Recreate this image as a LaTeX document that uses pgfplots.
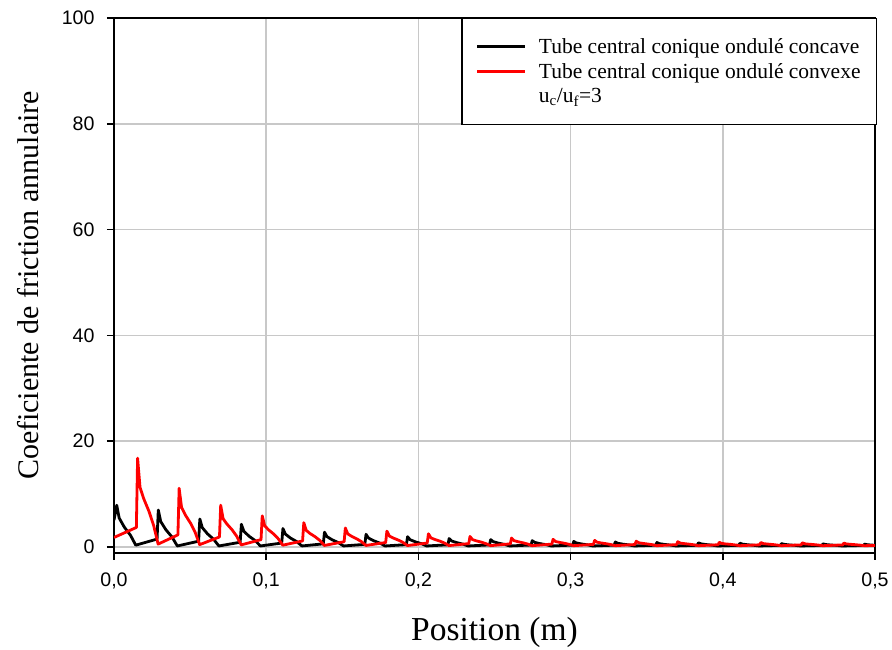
\documentclass[border=0pt]{standalone}
\usepackage{fontspec}
\setmainfont{Liberation Serif}
\newfontfamily\ticksf{Liberation Sans}
\usepackage{pgfplots}
\pgfplotsset{compat=1.18}
\definecolor{gridgray}{RGB}{200,200,200}
\definecolor{cred}{RGB}{255,0,0}
\begin{document}
\begin{tikzpicture}
\begin{axis}[
  scale only axis,
  width=761pt, height=535pt,
  xmin=0, xmax=0.5, ymin=-1.13, ymax=100,
  xtick={0,0.1,0.2,0.3,0.4,0.5},
  ytick={0,20,40,60,80,100},
  grid=major,
  major grid style={gridgray, line width=1.5pt},
  axis line style={black, line width=1.6pt},
  tick style={black, line width=1.6pt},
  tick align=outside,
  major tick length=7pt,
  xtick pos=bottom, ytick pos=left,
  /pgf/number format/assume math mode=true,
  xticklabel style={font=\ticksf\fontsize{19.6}{22}\selectfont, yshift=-9pt, /pgf/number format/.cd, use comma, fixed, fixed zerofill, precision=1},
  yticklabel style={font=\ticksf\fontsize{19.6}{22}\selectfont, xshift=-9pt, /pgf/number format/.cd, fixed, precision=0},
  xlabel={Position (m)},
  ylabel={Coeficiente de friction annulaire},
  xlabel style={font=\fontsize{33.5}{38}\selectfont, at={(axis description cs:0.5,0)}, anchor=center, yshift=-79pt},
  ylabel style={font=\fontsize{30}{34}\selectfont, at={(axis description cs:0,0.5)}, anchor=center, yshift=86pt},
  legend style={at={(axis description cs:1.003,1)}, anchor=north east, draw=black, line width=1.5pt, fill=white,
    font=\fontsize{21.5}{25}\selectfont, inner xsep=14pt, inner ysep=18pt, row sep=4.5pt,
    nodes={inner sep=2pt},
    /tikz/every odd column/.append style={column sep=10pt}},
  legend cell align=left,
  legend image code/.code={\draw[#1, line width=3pt] (0pt,0pt) -- (48pt,0pt);},
]
\addplot[black, line width=2.8pt, line join=round] coordinates {
(0,5.1) (0.0018,7.9) (0.0034,5.48) (0.0068,3.75) (0.0108,2.24) (0.0143,0.35)
(0.0283,1.5) (0.0291,7.0) (0.0307,4.82) (0.0341,3.26) (0.0381,1.9) (0.0416,0.2)
(0.0556,1.1) (0.0564,5.3) (0.058,3.67) (0.0614,2.5) (0.0654,1.48) (0.0689,0.2)
(0.0829,0.9) (0.0837,4.3) (0.0853,2.99) (0.0887,2.05) (0.0927,1.23) (0.0962,0.2)
(0.1102,0.75) (0.111,3.5) (0.1126,2.44) (0.116,1.69) (0.12,1.03) (0.1235,0.2)
(0.1375,0.6) (0.1383,2.8) (0.1399,1.97) (0.1433,1.37) (0.1473,0.85) (0.1508,0.2)
(0.1648,0.5) (0.1656,2.4) (0.1672,1.7) (0.1706,1.19) (0.1746,0.75) (0.1781,0.2)
(0.1921,0.45) (0.1929,1.95) (0.1945,1.39) (0.1979,0.99) (0.2019,0.64) (0.2054,0.2)
(0.2194,0.42) (0.2202,1.6) (0.2218,1.15) (0.2252,0.83) (0.2292,0.55) (0.2327,0.2)
(0.2467,0.4) (0.2475,1.4) (0.2491,1.02) (0.2525,0.74) (0.2565,0.5) (0.26,0.2)
(0.274,0.38) (0.2748,1.2) (0.2764,0.88) (0.2798,0.65) (0.2838,0.45) (0.2873,0.2)
(0.3013,0.36) (0.3021,1.05) (0.3037,0.78) (0.3071,0.58) (0.3111,0.41) (0.3146,0.2)
(0.3286,0.35) (0.3294,0.95) (0.331,0.71) (0.3344,0.54) (0.3384,0.39) (0.3419,0.2)
(0.3559,0.34) (0.3567,0.85) (0.3583,0.64) (0.3617,0.49) (0.3657,0.36) (0.3692,0.2)
(0.3832,0.33) (0.384,0.8) (0.3856,0.61) (0.389,0.47) (0.393,0.35) (0.3965,0.2)
(0.4105,0.32) (0.4113,0.72) (0.4129,0.55) (0.4163,0.43) (0.4203,0.33) (0.4238,0.2)
(0.4378,0.31) (0.4386,0.65) (0.4402,0.51) (0.4436,0.4) (0.4476,0.31) (0.4511,0.2)
(0.4651,0.3) (0.4659,0.6) (0.4675,0.47) (0.4709,0.38) (0.4749,0.3) (0.4784,0.2)
(0.4924,0.3) (0.4932,0.55) (0.4948,0.44) (0.4982,0.36) (0.5,0.33)
};
\addlegendentry{Tube central conique ondulé concave}
\addplot[cred, line width=2.8pt, line join=round] coordinates {
(0,1.8) (0.0147,3.7) (0.0155,16.8) (0.0171,11.28) (0.0195,9.16) (0.023,6.73) (0.026,4.13) (0.029,0.55)
(0.042,2.3) (0.0428,11.1) (0.0444,7.48) (0.0468,6.09) (0.0503,4.5) (0.0533,2.79) (0.0563,0.45)
(0.0693,1.9) (0.0701,7.9) (0.0717,5.35) (0.0741,4.38) (0.0776,3.25) (0.0806,2.05) (0.0836,0.4)
(0.0966,1.4) (0.0974,5.9) (0.099,4.01) (0.1014,3.29) (0.1049,2.46) (0.1079,1.57) (0.1109,0.35)
(0.1239,1.15) (0.1247,4.6) (0.1263,3.14) (0.1287,2.58) (0.1322,1.93) (0.1352,1.25) (0.1382,0.3)
(0.1512,1.0) (0.152,3.6) (0.1536,2.48) (0.156,2.05) (0.1595,1.55) (0.1625,1.03) (0.1655,0.3)
(0.1785,0.85) (0.1793,3.0) (0.1809,2.08) (0.1833,1.72) (0.1868,1.31) (0.1898,0.88) (0.1928,0.28)
(0.2058,0.75) (0.2066,2.5) (0.2082,1.74) (0.2106,1.45) (0.2141,1.12) (0.2171,0.76) (0.2201,0.27)
(0.2331,0.65) (0.2339,2.0) (0.2355,1.41) (0.2379,1.18) (0.2414,0.92) (0.2444,0.64) (0.2474,0.26)
(0.2604,0.6) (0.2612,1.7) (0.2628,1.21) (0.2652,1.02) (0.2687,0.8) (0.2717,0.57) (0.2747,0.25)
(0.2877,0.55) (0.2885,1.45) (0.2901,1.04) (0.2925,0.89) (0.296,0.71) (0.299,0.51) (0.302,0.25)
(0.315,0.5) (0.3158,1.25) (0.3174,0.91) (0.3198,0.78) (0.3233,0.63) (0.3263,0.47) (0.3293,0.25)
(0.3423,0.47) (0.3431,1.1) (0.3447,0.81) (0.3471,0.7) (0.3506,0.57) (0.3536,0.44) (0.3566,0.25)
(0.3696,0.45) (0.3704,1.0) (0.372,0.75) (0.3744,0.65) (0.3779,0.54) (0.3809,0.42) (0.3839,0.25)
(0.3969,0.43) (0.3977,0.9) (0.3993,0.68) (0.4017,0.59) (0.4052,0.5) (0.4082,0.39) (0.4112,0.25)
(0.4242,0.42) (0.425,0.85) (0.4266,0.65) (0.429,0.57) (0.4325,0.48) (0.4355,0.38) (0.4385,0.25)
(0.4515,0.41) (0.4523,0.8) (0.4539,0.61) (0.4563,0.54) (0.4598,0.46) (0.4628,0.37) (0.4658,0.25)
(0.4788,0.4) (0.4796,0.75) (0.4812,0.58) (0.4836,0.52) (0.4871,0.44) (0.4901,0.36) (0.4931,0.25)
(0.5,0.3)
};
\addlegendentry{Tube central conique ondulé convexe}
\addlegendimage{empty legend}
\addlegendentry{u\textsubscript{c}/u\textsubscript{f}=3}
\end{axis}
\pgfresetboundingbox
\path[use as bounding box] (-114pt,-97pt) rectangle (778pt,553pt);
\end{tikzpicture}
\end{document}
